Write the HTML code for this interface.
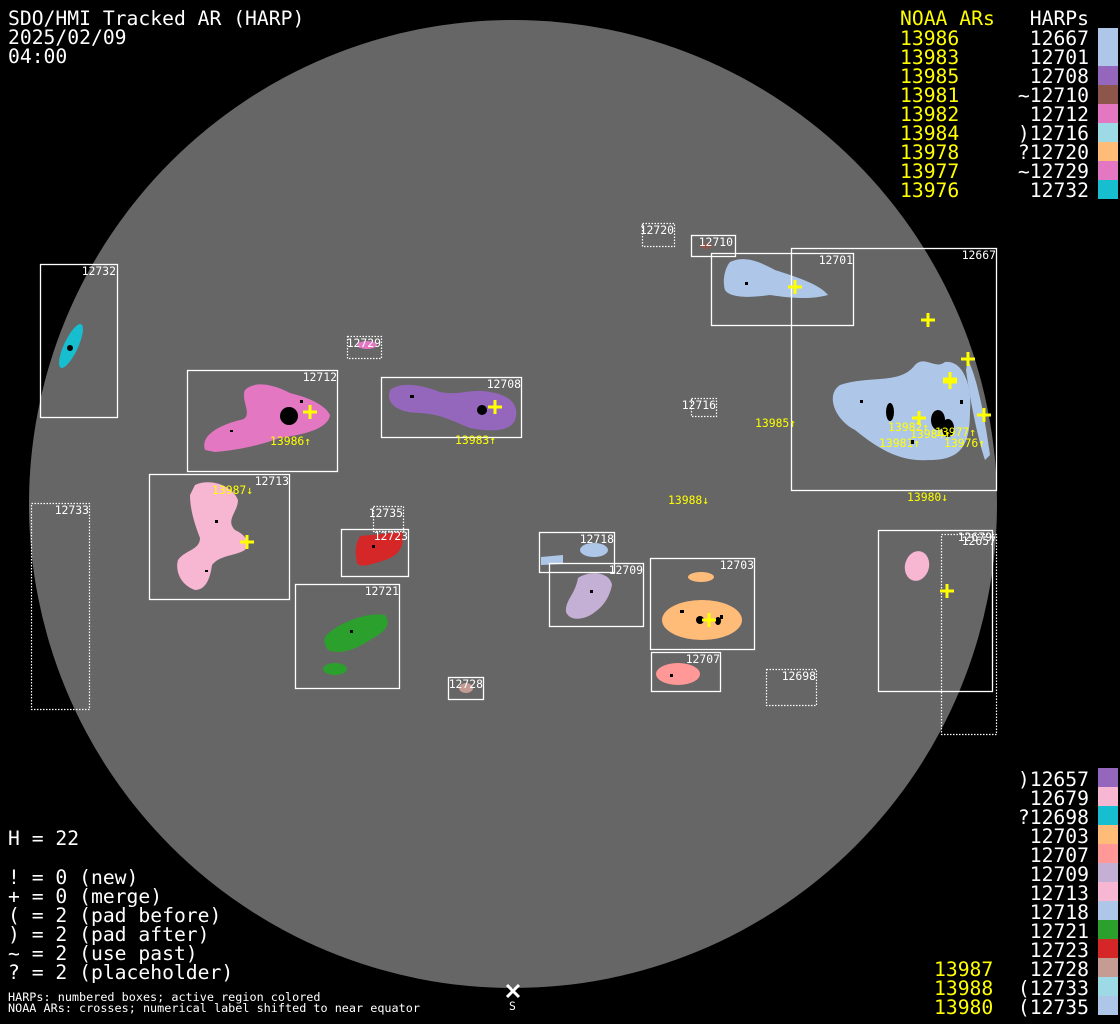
<!DOCTYPE html>
<html><head><meta charset="utf-8"><style>
html,body{margin:0;padding:0;background:#000;width:1120px;height:1024px;overflow:hidden}
svg{display:block}
text{font-family:"DejaVu Sans Mono","Liberation Mono",monospace}
.t{fill:#fff;font-size:19.7px}
.y{fill:#ff0;font-size:19.7px}
.bl{fill:#fff;font-size:11.4px}
.yl{fill:#ff0;font-size:11.4px}
.s{fill:#fff;font-size:11.8px}
.b{fill:none;stroke:#fff;stroke-width:1.3}
.d{fill:none;stroke:#fff;stroke-width:1.2;stroke-dasharray:1.5 1.5}
.c{stroke:#ff0;stroke-width:3}
</style></head><body>
<svg width="1120" height="1024" viewBox="0 0 1120 1024" xmlns="http://www.w3.org/2000/svg">
<rect width="1120" height="1024" fill="#000"/>
<circle cx="513" cy="504" r="484" fill="#666"/>

<!-- blobs -->
<ellipse cx="71" cy="346" rx="7" ry="24" transform="rotate(25 71 346)" fill="#17becf"/>
<path d="M840 385 C870 375 900 385 915 365 C925 355 935 370 945 362 C965 360 972 390 970 410 C970 440 965 460 930 460 C900 462 880 450 855 430 C835 420 825 395 840 385 Z" fill="#aec7e8"/>
<path d="M968 360 C978 380 985 420 990 455 L985 460 C978 440 970 400 966 370 Z" fill="#aec7e8"/>
<path d="M730 262 C745 255 760 262 775 270 C800 278 820 285 828 295 C810 300 790 298 770 295 C750 298 730 298 725 290 C722 280 725 268 730 262 Z" fill="#aec7e8"/>
<path d="M205 450 C200 435 220 425 240 420 C255 418 240 400 245 390 C255 380 275 385 290 393 C310 398 325 405 330 415 C328 430 300 435 280 438 C260 445 240 450 215 452 Z" fill="#e377c2"/>
<ellipse cx="367" cy="345" rx="10" ry="4" fill="#e377c2"/>
<path d="M390 390 C400 382 420 384 440 392 C460 396 470 388 490 392 C510 395 520 405 515 420 C510 432 490 432 470 428 C450 420 440 414 420 413 C400 413 385 405 390 390 Z" fill="#9467bd"/>
<path d="M195 485 C210 478 232 485 238 500 C238 512 225 520 235 530 C245 535 250 540 245 550 C235 556 220 555 212 565 C210 580 205 590 195 590 C180 585 175 570 178 560 C185 550 200 550 200 538 C195 525 190 510 190 495 Z" fill="#f7b6d2"/>
<path d="M360 536 L402 532 C405 545 400 555 385 560 C370 565 360 568 357 563 C355 552 355 545 360 536 Z" fill="#d62728"/>
<path d="M330 632 C345 620 370 612 385 615 C392 625 385 632 370 640 C355 650 340 655 328 650 C322 642 324 636 330 632 Z" fill="#2ca02c"/>
<ellipse cx="335" cy="669" rx="12" ry="6" fill="#2ca02c"/>
<ellipse cx="466" cy="688" rx="7" ry="5" fill="#c49c94"/>
<ellipse cx="706" cy="246" rx="6" ry="3" fill="#8c564b"/>
<ellipse cx="594" cy="550" rx="14" ry="7" fill="#aec7e8"/>
<path d="M541 557 L563 555 L563 564 L541 565 Z" fill="#aec7e8"/>
<path d="M578 578 C590 570 610 572 612 585 C610 595 605 605 595 612 C585 620 570 622 566 612 C565 600 575 595 578 578 Z" fill="#c5b0d5"/>
<ellipse cx="701" cy="577" rx="13" ry="5" fill="#ffbb78"/>
<ellipse cx="702" cy="620" rx="40" ry="20" fill="#ffbb78"/>
<ellipse cx="678" cy="674" rx="22" ry="11" fill="#ff9896"/>
<ellipse cx="917" cy="566" rx="12" ry="15" transform="rotate(15 917 566)" fill="#f7b6d2"/>

<!-- sunspots -->
<g fill="#000">
<circle cx="289" cy="416" r="9"/><circle cx="482" cy="410" r="5"/>
<ellipse cx="890" cy="412" rx="4" ry="9"/><ellipse cx="938" cy="420" rx="7" ry="10"/><ellipse cx="948" cy="428" rx="6" ry="9"/>
<ellipse cx="700" cy="620" rx="4" ry="4"/><ellipse cx="718" cy="621" rx="3" ry="4"/>
<circle cx="70" cy="348" r="3"/>
<rect x="230" y="430" width="3" height="2"/><rect x="300" y="400" width="3" height="3"/><rect x="410" y="395" width="4" height="3"/>
<rect x="215" y="520" width="3" height="3"/><rect x="205" y="570" width="3" height="2"/><rect x="590" y="590" width="3" height="3"/>
<rect x="680" y="610" width="4" height="3"/><rect x="720" y="615" width="3" height="4"/><rect x="860" y="400" width="3" height="3"/>
<rect x="910" y="440" width="4" height="4"/><rect x="960" y="400" width="3" height="4"/><rect x="745" y="282" width="3" height="3"/>
<rect x="350" y="630" width="3" height="3"/><rect x="372" y="545" width="3" height="3"/><rect x="670" y="674" width="3" height="3"/>
</g>

<!-- boxes -->
<rect class="b" x="40.5" y="264.5" width="77" height="153"/>
<rect class="d" x="31.5" y="503.5" width="58" height="206"/>
<rect class="d" x="347.5" y="336.5" width="34" height="22"/>
<rect class="b" x="187.5" y="370.5" width="150" height="101"/>
<rect class="b" x="381.5" y="377.5" width="140" height="60"/>
<rect class="b" x="149.5" y="474.5" width="140" height="125"/>
<rect class="d" x="373.5" y="506.5" width="30" height="25"/>
<rect class="b" x="341.5" y="529.5" width="67" height="47"/>
<rect class="b" x="295.5" y="584.5" width="104" height="104"/>
<rect class="b" x="448.5" y="677.5" width="35" height="22"/>
<rect class="d" x="642.5" y="223.5" width="32" height="23"/>
<rect class="b" x="691.5" y="235.5" width="44" height="21"/>
<rect class="b" x="711.5" y="253.5" width="142" height="72"/>
<rect class="b" x="791.5" y="248.5" width="205" height="242"/>
<rect class="d" x="691.5" y="398.5" width="25" height="18"/>
<rect class="b" x="539.5" y="532.5" width="75" height="40"/>
<rect class="b" x="549.5" y="563.5" width="94" height="63"/>
<rect class="b" x="650.5" y="558.5" width="104" height="91"/>
<rect class="b" x="651.5" y="652.5" width="69" height="39"/>
<rect class="d" x="766.5" y="669.5" width="50" height="36"/>
<rect class="b" x="878.5" y="530.5" width="114" height="161"/>
<rect class="d" x="941.5" y="534.5" width="55" height="200"/>

<!-- box labels -->
<g class="bl" text-anchor="end">
<text x="116" y="275">12732</text><text x="89" y="514">12733</text><text x="381" y="347">12729</text>
<text x="337" y="381">12712</text><text x="521" y="388">12708</text><text x="289" y="485">12713</text>
<text x="403" y="517">12735</text><text x="408" y="540">12723</text><text x="399" y="595">12721</text>
<text x="483" y="688">12728</text><text x="674" y="234">12720</text><text x="733" y="246">12710</text>
<text x="853" y="264">12701</text><text x="996" y="259">12667</text><text x="716" y="409">12716</text>
<text x="614" y="543">12718</text><text x="643" y="574">12709</text><text x="754" y="569">12703</text>
<text x="720" y="663">12707</text><text x="816" y="680">12698</text><text x="992" y="541">12679</text>
<text x="996" y="545">12657</text>
</g>

<!-- crosses -->
<g class="c">
<path d="M303 412h14M310 405v14"/><path d="M488 407h14M495 400v14"/><path d="M240 542h14M247 535v14"/>
<path d="M788 287h14M795 280v14"/><path d="M921 320h14M928 313v14"/><path d="M961 359h14M968 352v14"/>
<path d="M943 379h14M950 372v14"/><path d="M943 382h14M950 375v14"/><path d="M977 415h14M984 408v14"/>
<path d="M912 418h14M919 411v14"/><path d="M702 620h14M709 613v14"/><path d="M940 591h14M947 584v14"/>
</g>
<g class="yl">
<text x="270" y="445">13986↑</text><text x="455" y="444">13983↑</text><text x="212" y="494">13987↓</text>
<text x="668" y="504">13988↓</text><text x="755" y="427">13985↑</text><text x="907" y="501">13980↓</text>
<text x="888" y="431">13982↑</text><text x="910" y="438">13984↑</text><text x="935" y="436">13977↑</text>
<text x="879" y="447">13981↑</text><text x="944" y="447">13976↑</text>
</g>

<!-- S marker -->
<path d="M507 985l12 12M519 985l-12 12" stroke="#fff" stroke-width="3"/>
<text class="bl" x="509" y="1010">S</text>

<!-- title -->
<text class="t" x="8" y="25">SDO/HMI Tracked AR (HARP)</text>
<text class="t" x="8" y="44">2025/02/09</text>
<text class="t" x="8" y="63">04:00</text>

<!-- top-right legend -->
<text class="y" x="900" y="25">NOAA ARs</text><text class="t" x="1089" y="25" text-anchor="end">HARPs</text>
<g class="y">
<text x="900" y="45">13986</text><text x="900" y="64">13983</text><text x="900" y="83">13985</text>
<text x="900" y="102">13981</text><text x="900" y="121">13982</text><text x="900" y="140">13984</text>
<text x="900" y="159">13978</text><text x="900" y="178">13977</text><text x="900" y="197">13976</text>
</g>
<g class="t" text-anchor="end">
<text x="1089" y="45">12667</text><text x="1089" y="64">12701</text><text x="1089" y="83">12708</text>
<text x="1089" y="102">~12710</text><text x="1089" y="121">12712</text><text x="1089" y="140">)12716</text>
<text x="1089" y="159">?12720</text><text x="1089" y="178">~12729</text><text x="1089" y="197">12732</text>
</g>
<rect x="1098" y="28" width="20" height="38" fill="#aec7e8"/>
<rect x="1098" y="66" width="20" height="19" fill="#9467bd"/>
<rect x="1098" y="85" width="20" height="19" fill="#8c564b"/>
<rect x="1098" y="104" width="20" height="19" fill="#e377c2"/>
<rect x="1098" y="123" width="20" height="19" fill="#9edae5"/>
<rect x="1098" y="142" width="20" height="19" fill="#ffbb78"/>
<rect x="1098" y="161" width="20" height="19" fill="#e377c2"/>
<rect x="1098" y="180" width="20" height="19" fill="#17becf"/>

<!-- bottom-right legend -->
<g class="t" text-anchor="end">
<text x="1089" y="786">)12657</text><text x="1089" y="805">12679</text><text x="1089" y="824">?12698</text>
<text x="1089" y="843">12703</text><text x="1089" y="862">12707</text><text x="1089" y="881">12709</text>
<text x="1089" y="900">12713</text><text x="1089" y="919">12718</text><text x="1089" y="938">12721</text>
<text x="1089" y="957">12723</text><text x="1089" y="976">12728</text><text x="1089" y="995">(12733</text>
<text x="1089" y="1014">(12735</text>
</g>
<g class="y"><text x="934" y="976">13987</text><text x="934" y="995">13988</text><text x="934" y="1014">13980</text></g>
<rect x="1098" y="768" width="20" height="19" fill="#9467bd"/>
<rect x="1098" y="787" width="20" height="19" fill="#f7b6d2"/>
<rect x="1098" y="806" width="20" height="19" fill="#17becf"/>
<rect x="1098" y="825" width="20" height="19" fill="#ffbb78"/>
<rect x="1098" y="844" width="20" height="19" fill="#ff9896"/>
<rect x="1098" y="863" width="20" height="19" fill="#c5b0d5"/>
<rect x="1098" y="882" width="20" height="19" fill="#f7b6d2"/>
<rect x="1098" y="901" width="20" height="19" fill="#aec7e8"/>
<rect x="1098" y="920" width="20" height="19" fill="#2ca02c"/>
<rect x="1098" y="939" width="20" height="19" fill="#d62728"/>
<rect x="1098" y="958" width="20" height="19" fill="#c49c94"/>
<rect x="1098" y="977" width="20" height="19" fill="#9edae5"/>
<rect x="1098" y="996" width="20" height="19" fill="#aec7e8"/>

<!-- bottom-left -->
<text class="t" x="8" y="845">H = 22</text>
<text class="t" x="8" y="884">! = 0 (new)</text>
<text class="t" x="8" y="903">+ = 0 (merge)</text>
<text class="t" x="8" y="922">( = 2 (pad before)</text>
<text class="t" x="8" y="941">) = 2 (pad after)</text>
<text class="t" x="8" y="960">~ = 2 (use past)</text>
<text class="t" x="8" y="979">? = 2 (placeholder)</text>
<text class="s" x="8" y="1001">HARPs: numbered boxes; active region colored</text>
<text class="s" x="8" y="1012">NOAA ARs: crosses; numerical label shifted to near equator</text>
</svg>
</body></html>
